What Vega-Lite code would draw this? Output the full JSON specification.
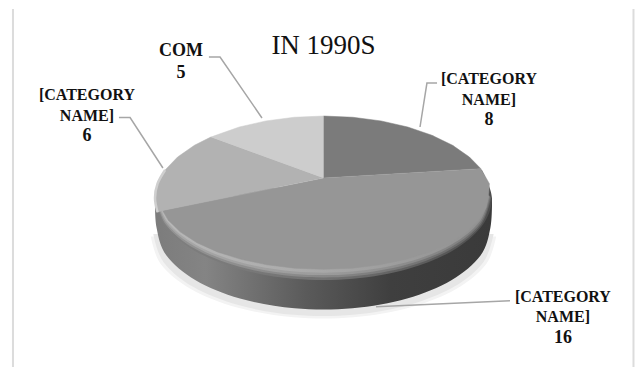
{
"$schema":"https://vega.github.io/schema/vega-lite/v6.json",
"width":635,"height":367,"padding":0,"autosize":"none","background":"#ffffff",
"title":{"text":"IN 1990S","font":"Liberation Serif","fontSize":27,"fontWeight":"normal","color":"#111111","anchor":"middle","dx":6,"offset":-60},
"view":{"stroke":null},
"datasets":{
"frame":[
{"p":"l","u":-1.843,"v":-2.305,"o":1},{"p":"l","u":-1.843,"v":2.061,"o":2},
{"p":"r","u":1.84,"v":-2.305,"o":1},{"p":"r","u":1.84,"v":2.061,"o":2}],
"outline":[
{"p":"s0","u":1.025,"v":0.47,"o":1},{"p":"s0","u":0.964,"v":0.812,"o":2},{"p":"s0","u":0.785,"v":1.113,"o":3},{"p":"s0","u":0.513,"v":1.336,"o":4},{"p":"s0","u":0.178,"v":1.455,"o":5},{"p":"s0","u":-0.178,"v":1.455,"o":6},{"p":"s0","u":-0.513,"v":1.336,"o":7},{"p":"s0","u":-0.785,"v":1.113,"o":8},{"p":"s0","u":-0.964,"v":0.812,"o":9},{"p":"s0","u":-1.025,"v":0.47,"o":10},
{"p":"s1","u":1.01,"v":0.44,"o":1},{"p":"s1","u":0.949,"v":0.782,"o":2},{"p":"s1","u":0.774,"v":1.083,"o":3},{"p":"s1","u":0.505,"v":1.306,"o":4},{"p":"s1","u":0.176,"v":1.425,"o":5},{"p":"s1","u":-0.176,"v":1.425,"o":6},{"p":"s1","u":-0.505,"v":1.306,"o":7},{"p":"s1","u":-0.774,"v":1.083,"o":8},{"p":"s1","u":-0.949,"v":0.782,"o":9},{"p":"s1","u":-1.01,"v":0.44,"o":10},
{"p":"w","u":1,"v":0,"o":0},{"p":"w","u":0.991,"v":0.36,"o":1},{"p":"w","u":0.932,"v":0.702,"o":2},{"p":"w","u":0.759,"v":1.003,"o":3},{"p":"w","u":0.496,"v":1.226,"o":4},{"p":"w","u":0.172,"v":1.345,"o":5},{"p":"w","u":-0.172,"v":1.345,"o":6},{"p":"w","u":-0.496,"v":1.226,"o":7},{"p":"w","u":-0.759,"v":1.003,"o":8},{"p":"w","u":-0.932,"v":0.702,"o":9},{"p":"w","u":-0.991,"v":0.36,"o":10},{"p":"w","u":-1,"v":0,"o":11},
{"p":"b1","u":0.94,"v":-0.342,"o":0},{"p":"b1","u":1,"v":0,"o":1},{"p":"b1","u":0.94,"v":0.342,"o":2},{"p":"b1","u":0.766,"v":0.643,"o":3},{"p":"b1","u":0.5,"v":0.866,"o":4},{"p":"b1","u":0.174,"v":0.985,"o":5},{"p":"b1","u":-0.174,"v":0.985,"o":6},{"p":"b1","u":-0.5,"v":0.866,"o":7},{"p":"b1","u":-0.766,"v":0.643,"o":8},{"p":"b1","u":-0.94,"v":0.342,"o":9},{"p":"b1","u":-1,"v":0,"o":10},
{"p":"b2","u":0.995,"v":-0.01,"o":1},{"p":"b2","u":0.935,"v":0.325,"o":2},{"p":"b2","u":0.762,"v":0.62,"o":3},{"p":"b2","u":0.498,"v":0.839,"o":4},{"p":"b2","u":0.173,"v":0.955,"o":5},{"p":"b2","u":-0.173,"v":0.955,"o":6},{"p":"b2","u":-0.498,"v":0.839,"o":7},{"p":"b2","u":-0.762,"v":0.62,"o":8},{"p":"b2","u":-0.935,"v":0.325,"o":9},{"p":"b2","u":-0.995,"v":-0.01,"o":10},
{"p":"b3","u":0.99,"v":-0.02,"o":1},{"p":"b3","u":0.931,"v":0.308,"o":2},{"p":"b3","u":0.758,"v":0.597,"o":3},{"p":"b3","u":0.495,"v":0.811,"o":4},{"p":"b3","u":0.172,"v":0.926,"o":5},{"p":"b3","u":-0.172,"v":0.926,"o":6},{"p":"b3","u":-0.495,"v":0.811,"o":7},{"p":"b3","u":-0.758,"v":0.597,"o":8},{"p":"b3","u":-0.931,"v":0.308,"o":9},{"p":"b3","u":-0.99,"v":-0.02,"o":10},
{"p":"b4","u":0.985,"v":-0.03,"o":1},{"p":"b4","u":0.926,"v":0.291,"o":2},{"p":"b4","u":0.755,"v":0.574,"o":3},{"p":"b4","u":0.493,"v":0.784,"o":4},{"p":"b4","u":0.171,"v":0.896,"o":5},{"p":"b4","u":-0.171,"v":0.896,"o":6},{"p":"b4","u":-0.493,"v":0.784,"o":7},{"p":"b4","u":-0.755,"v":0.574,"o":8},{"p":"b4","u":-0.926,"v":0.291,"o":9},{"p":"b4","u":-0.985,"v":-0.03,"o":10},
{"p":"e","u":-0.985,"v":0.174,"o":1},{"p":"e","u":-1,"v":0,"o":2},{"p":"e","u":-0.985,"v":-0.174,"o":3},{"p":"e","u":-0.94,"v":-0.342,"o":4}
],
"wedges":[
{"slice":"8","u":0,"v":-0.244,"o":0},{"slice":"8","u":0,"v":-1,"o":1},{"slice":"8","u":0.174,"v":-0.985,"o":2},{"slice":"8","u":0.342,"v":-0.94,"o":3},{"slice":"8","u":0.5,"v":-0.866,"o":4},{"slice":"8","u":0.643,"v":-0.766,"o":5},{"slice":"8","u":0.766,"v":-0.643,"o":6},{"slice":"8","u":0.866,"v":-0.5,"o":7},{"slice":"8","u":0.934,"v":-0.358,"o":8},
{"slice":"5","u":0,"v":-0.244,"o":0},{"slice":"5","u":-0.669,"v":-0.743,"o":1},{"slice":"5","u":-0.5,"v":-0.866,"o":2},{"slice":"5","u":-0.342,"v":-0.94,"o":3},{"slice":"5","u":-0.174,"v":-0.985,"o":4},{"slice":"5","u":0,"v":-1,"o":5},
{"slice":"16","u":0,"v":-0.244,"o":0},{"slice":"16","u":0.934,"v":-0.358,"o":1},{"slice":"16","u":0.985,"v":-0.174,"o":2},{"slice":"16","u":0.98,"v":-0.04,"o":3},{"slice":"16","u":0.965,"v":0.118,"o":4},{"slice":"16","u":0.921,"v":0.271,"o":5},{"slice":"16","u":0.849,"v":0.415,"o":6},{"slice":"16","u":0.751,"v":0.545,"o":7},{"slice":"16","u":0.63,"v":0.657,"o":8},{"slice":"16","u":0.49,"v":0.748,"o":9},{"slice":"16","u":0.335,"v":0.815,"o":10},{"slice":"16","u":0.171,"v":0.856,"o":11},{"slice":"16","u":0,"v":0.87,"o":12},{"slice":"16","u":-0.171,"v":0.856,"o":13},{"slice":"16","u":-0.335,"v":0.815,"o":14},{"slice":"16","u":-0.49,"v":0.748,"o":15},{"slice":"16","u":-0.63,"v":0.657,"o":16},{"slice":"16","u":-0.751,"v":0.545,"o":17},{"slice":"16","u":-0.849,"v":0.415,"o":18},{"slice":"16","u":-0.921,"v":0.271,"o":19},{"slice":"16","u":-0.955,"v":0.152,"o":20},
{"slice":"6","u":0,"v":-0.244,"o":0},{"slice":"6","u":-0.955,"v":0.152,"o":1},{"slice":"6","u":-0.985,"v":0.174,"o":2},{"slice":"6","u":-1,"v":0,"o":3},{"slice":"6","u":-0.985,"v":-0.174,"o":4},{"slice":"6","u":-0.94,"v":-0.342,"o":5},{"slice":"6","u":-0.866,"v":-0.5,"o":6},{"slice":"6","u":-0.766,"v":-0.643,"o":7},{"slice":"6","u":-0.669,"v":-0.743,"o":8}
],
"leaders":[
{"slice":"5","u":-0.68,"v":-1.72,"o":1},{"slice":"5","u":-0.614,"v":-1.72,"o":2},{"slice":"5","u":-0.365,"v":-0.976,"o":3},
{"slice":"6","u":-1.214,"v":-0.982,"o":1},{"slice":"6","u":-1.148,"v":-0.982,"o":2},{"slice":"6","u":-0.953,"v":-0.366,"o":3},
{"slice":"8","u":0.674,"v":-1.402,"o":1},{"slice":"8","u":0.614,"v":-1.402,"o":2},{"slice":"8","u":0.573,"v":-0.866,"o":3},
{"slice":"16","u":1.107,"v":1.252,"o":1},{"slice":"16","u":0.312,"v":1.326,"o":2}
],
"labels":[
{"name":"COM","value":5,"u":-0.846,"v":-1.787,"vv":-1.524},
{"name":"[CATEGORY\nNAME]","value":6,"u":-1.404,"v":-1.256,"vv":-0.756},
{"name":"[CATEGORY\nNAME]","value":8,"u":0.982,"v":-1.451,"vv":-0.951},
{"name":"[CATEGORY\nNAME]","value":16,"u":1.421,"v":1.207,"vv":1.707}
]
},
"encoding":{
"x":{"field":"u","type":"quantitative","axis":null,"scale":{"domain":[-1.92,1.849],"nice":false,"zero":false}},
"y":{"field":"v","type":"quantitative","axis":null,"scale":{"domain":[2.061,-2.415],"nice":false,"zero":false}},
"order":{"field":"o","type":"quantitative"}
},
"layer":[
{"data":{"name":"frame"},"mark":{"type":"line","stroke":"#dcdcdc","strokeWidth":2},"encoding":{"detail":{"field":"p"}}},
{"data":{"name":"outline"},"transform":[{"filter":"datum.p=='s0'"}],"mark":{"type":"line","interpolate":"cardinal","fill":"#f3f3f3","strokeWidth":0}},
{"data":{"name":"outline"},"transform":[{"filter":"datum.p=='s1'"}],"mark":{"type":"line","interpolate":"cardinal","fill":"#e6e6e6","strokeWidth":0}},
{"data":{"name":"outline"},"transform":[{"filter":"datum.p=='w'"}],"mark":{"type":"line","interpolate":"cardinal","strokeWidth":0,"fill":{"gradient":"linear","x1":0,"x2":1,"y1":0,"y2":0,"stops":[{"offset":0,"color":"#7c7c7c"},{"offset":0.15,"color":"#848484"},{"offset":0.45,"color":"#5a5a5a"},{"offset":0.7,"color":"#3f3f3f"},{"offset":1,"color":"#3a3a3a"}]}}},
{"data":{"name":"outline"},"transform":[{"filter":"datum.p=='b1'"}],"mark":{"type":"line","interpolate":"cardinal","strokeWidth":0,"fill":{"gradient":"linear","x1":0,"x2":1,"y1":0,"y2":0,"stops":[{"offset":0,"color":"#808080"},{"offset":0.5,"color":"#727272"},{"offset":1,"color":"#4e4e4e"}]}}},
{"data":{"name":"outline"},"transform":[{"filter":"datum.p=='b2'"}],"mark":{"type":"line","interpolate":"cardinal","strokeWidth":0,"fill":{"gradient":"linear","x1":0,"x2":1,"y1":0,"y2":0,"stops":[{"offset":0,"color":"#949494"},{"offset":0.5,"color":"#888888"},{"offset":1,"color":"#666666"}]}}},
{"data":{"name":"outline"},"transform":[{"filter":"datum.p=='b3'"}],"mark":{"type":"line","interpolate":"cardinal","strokeWidth":0,"fill":{"gradient":"linear","x1":0,"x2":1,"y1":0,"y2":0,"stops":[{"offset":0,"color":"#a8a8a8"},{"offset":0.5,"color":"#9c9c9c"},{"offset":1,"color":"#7c7c7c"}]}}},
{"data":{"name":"outline"},"transform":[{"filter":"datum.p=='b4'"}],"mark":{"type":"line","interpolate":"cardinal","strokeWidth":0,"fill":{"gradient":"linear","x1":0,"x2":1,"y1":0,"y2":0,"stops":[{"offset":0,"color":"#b8b8b8"},{"offset":0.4,"color":"#acacac"},{"offset":1,"color":"#909090"}]}}},
{"data":{"name":"wedges"},"mark":{"type":"line","strokeWidth":0.5},
 "encoding":{"fill":{"field":"slice","type":"nominal","legend":null,"scale":{"domain":["8","16","6","5"],"range":["#7b7b7b","#969696","#b2b2b2","#cdcdcd"]}},
 "stroke":{"field":"slice","type":"nominal","legend":null,"scale":{"domain":["8","16","6","5"],"range":["#7b7b7b","#969696","#b2b2b2","#cdcdcd"]}}}},
{"data":{"name":"outline"},"transform":[{"filter":"datum.p=='e'"}],"mark":{"type":"line","interpolate":"cardinal","stroke":"#cfcfcf","strokeWidth":2.5}},
{"data":{"name":"leaders"},"mark":{"type":"line","stroke":"#a6a6a6","strokeWidth":1.5},"encoding":{"detail":{"field":"slice"}}},
{"data":{"name":"labels"},"transform":[{"filter":"datum.name!='COM'"}],
 "mark":{"type":"text","font":"Liberation Serif","fontWeight":"bold","fontSize":16,"lineBreak":"\n","lineHeight":20.5,"align":"center","baseline":"middle","color":"#111111"},
 "encoding":{"text":{"field":"name","type":"nominal"},"order":{"value":null}}},
{"data":{"name":"labels"},"transform":[{"filter":"datum.name=='COM'"}],
 "mark":{"type":"text","font":"Liberation Serif","fontWeight":"bold","fontSize":18,"align":"center","baseline":"middle","color":"#111111"},
 "encoding":{"text":{"field":"name","type":"nominal"},"order":{"value":null}}},
{"data":{"name":"labels"},
 "mark":{"type":"text","font":"Liberation Serif","fontWeight":"bold","fontSize":18,"align":"center","baseline":"middle","color":"#111111"},
 "encoding":{"y":{"field":"vv","type":"quantitative","axis":null,"scale":{"domain":[2.061,-2.415],"nice":false,"zero":false}},"text":{"field":"value","type":"quantitative"},"order":{"value":null}}}
]
}
